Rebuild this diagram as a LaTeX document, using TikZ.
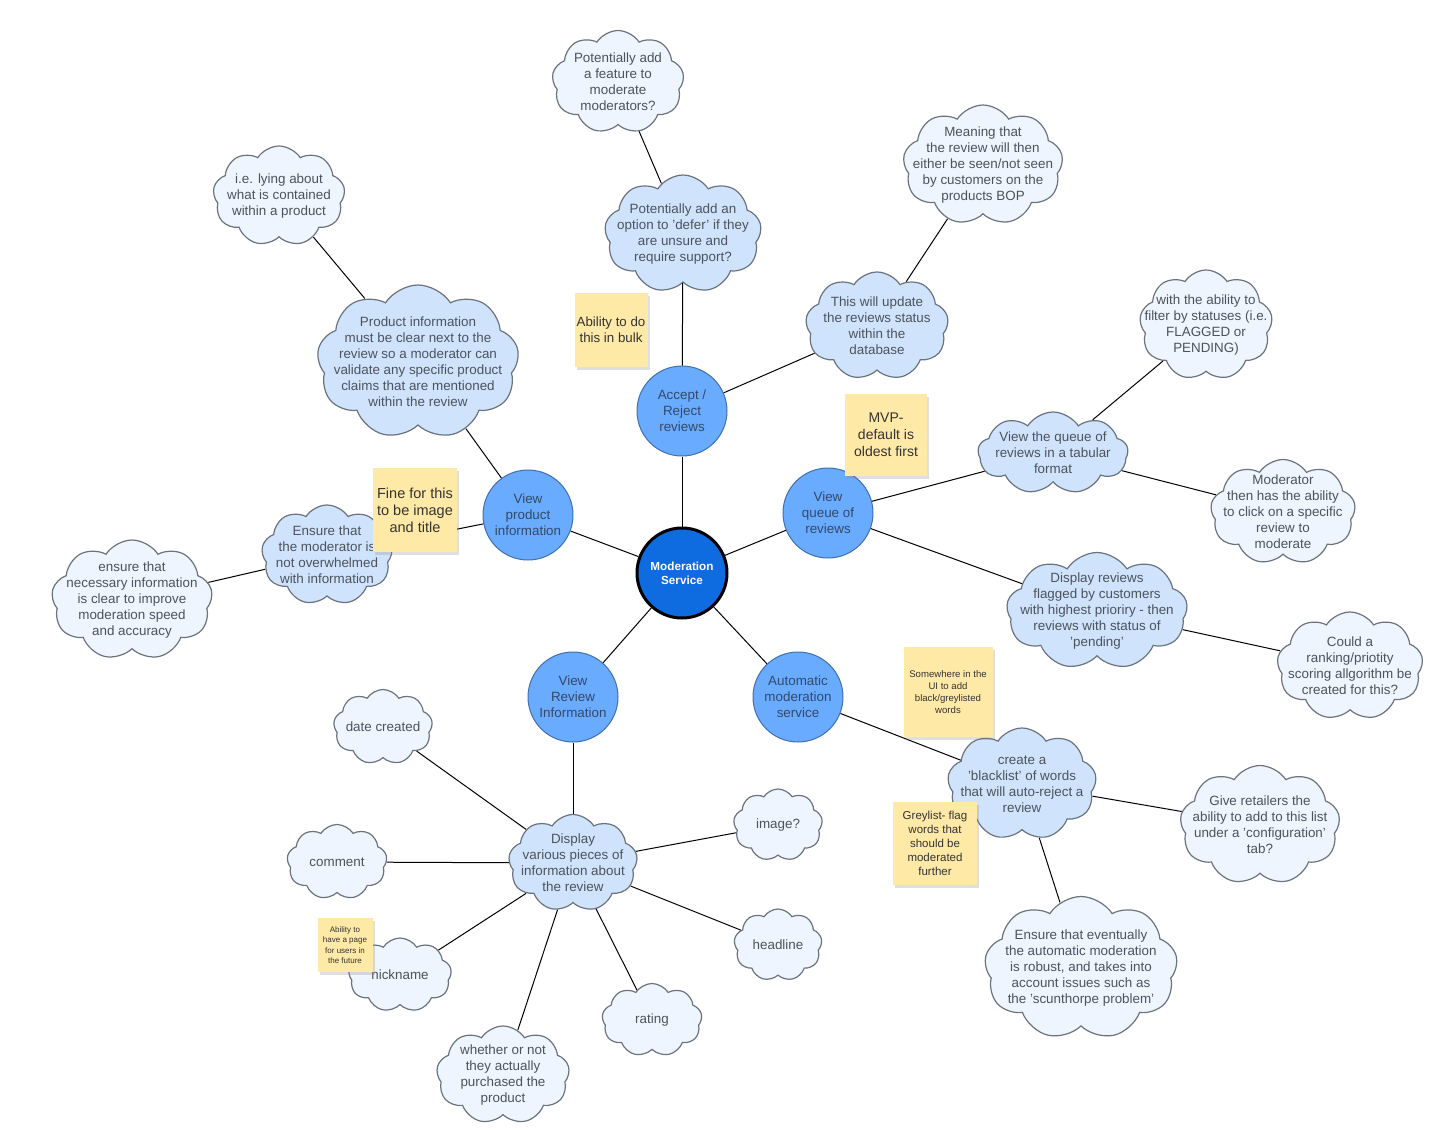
\documentclass[tikz,border=0pt]{standalone}
\usepackage{fontspec}
\setmainfont{Liberation Sans}
\usetikzlibrary{shapes.symbols,shadows}

\definecolor{lightcloud}{HTML}{EEF5FE}
\definecolor{darkcloud}{HTML}{CFE3FD}
\definecolor{cloudline}{HTML}{6B737E}
\definecolor{cloudtext}{HTML}{4D535C}
\definecolor{topicfill}{HTML}{69ABFE}
\definecolor{topicline}{HTML}{3F6FAF}
\definecolor{topictext}{HTML}{34496A}
\definecolor{hubfill}{HTML}{0E6BE0}
\definecolor{stickyfill}{HTML}{FFE9A6}

\begin{document}
\begin{tikzpicture}[x=1pt, y=-1pt,
  font=\fontsize{13.4}{16}\selectfont,
  link/.style={black, line width=1pt},
  ctext/.style={text=cloudtext, align=center, inner sep=0pt},
  basecloud/.style={cloud, cloud puffs=9, cloud puff arc=115, cloud ignores aspect,
    draw=cloudline, line width=1.2pt, inner sep=0pt, label={[ctext]center:{#1}}},
  lcloud/.style={basecloud={#1}, fill=lightcloud},
  dcloud/.style={basecloud={#1}, fill=darkcloud},
  topic/.style={circle, minimum size=90pt, inner sep=0pt, fill=topicfill,
    draw=topicline, line width=1pt, text=topictext, align=center},
  hub/.style={circle, minimum size=90pt, inner sep=0pt, fill=hubfill,
    draw=black, line width=3pt, text=white, align=center,
    font=\fontsize{11.7}{14}\selectfont\bfseries},
  sticky/.style={rectangle, fill=stickyfill, inner sep=0pt, align=center, text=black!80,
    drop shadow={shadow xshift=2pt, shadow yshift=-3pt, opacity=0.25}}
]
\useasboundingbox (0,0) rectangle (1438,1130);

% Hub and topics
\node[hub] (mod) at (682,573) {Moderation\\Service};
\node[topic] (accept) at (682,411) {Accept /\\Reject\\reviews};
\node[topic] (product) at (528,515) {View\\product\\information};
\node[topic] (queue) at (828,513) {View\\queue of\\reviews};
\node[topic] (info) at (573,697) {View\\Review\\Information};
\node[topic] (auto) at (798,697) {Automatic\\moderation\\service};

% Accept / Reject branch
\node[dcloud={Potentially add an\\option to 'defer' if they\\are unsure and\\require support?},
  minimum width=157, minimum height=118] (defer) at (683,234) {};
\node[lcloud={Potentially add\\a feature to\\moderate\\moderators?},
  minimum width=132, minimum height=103] (modmod) at (618,82) {};
\node[dcloud={This will update\\the reviews status\\within the\\database},
  minimum width=143, minimum height=108] (update) at (877,326) {};
\node[lcloud={Meaning that\\the review will then\\either be seen/not seen\\by customers on the\\products BOP},
  minimum width=160, minimum height=120] (meaning) at (983,165) {};

% Product information branch
\node[lcloud={i.e. lying about\\what is contained\\within a product},
  minimum width=132, minimum height=100] (lying) at (279,196) {};
\node[dcloud={Product information\\must be clear next to the\\review so a moderator can\\validate any specific product\\claims that are mentioned\\within the review},
  minimum width=202, minimum height=154] (prodinfo) at (418,362) {};
\node[dcloud={Ensure that\\the moderator is\\not overwhelmed\\with information},
  minimum width=131, minimum height=100] (overwhelm) at (327,555) {};
\node[lcloud={ensure that\\necessary information\\is clear to improve\\moderation speed\\and accuracy},
  minimum width=161, minimum height=120] (necessary) at (132,600) {};

% Queue branch
\node[dcloud={View the queue of\\reviews in a tabular\\format},
  minimum width=150, minimum height=82] (tabular) at (1053,453) {};
\node[lcloud={with the ability to\\filter by statuses (i.e.\\FLAGGED or\\PENDING)},
  minimum width=133, minimum height=110] (filter) at (1206,325) {};
\node[lcloud={Moderator\\then has the ability\\to click on a specific\\review to\\moderate},
  minimum width=145, minimum height=105] (clickon) at (1283,512) {};
\node[dcloud={Display reviews\\flagged by customers\\with highest prioriry - then\\reviews with status of\\'pending'},
  minimum width=181, minimum height=117] (flagged) at (1097,611) {};
\node[lcloud={Could a\\ranking/priotity\\scoring allgorithm be\\created for this?},
  minimum width=146, minimum height=108] (ranking) at (1350,666) {};

% Automatic moderation branch
\node[dcloud={create a\\'blacklist' of words\\that will auto-reject a\\review},
  minimum width=149, minimum height=112] (blacklist) at (1022,784) {};
\node[lcloud={Give retailers the\\ability to add to this list\\under a 'configuration'\\tab?},
  minimum width=160, minimum height=119] (retailers) at (1260,825) {};
\node[lcloud={Ensure that eventually\\the automatic moderation\\is robust, and takes into\\account issues such as\\the 'scunthorpe problem'},
  minimum width=193, minimum height=143] (scunthorpe) at (1081,968) {};

% Review information branch
\node[dcloud={Display\\various pieces of\\information about\\the review},
  minimum width=129, minimum height=97] (various) at (573,863) {};
\node[lcloud={date created}, minimum width=99, minimum height=75] (date) at (383,727) {};
\node[lcloud={comment}, minimum width=100, minimum height=75] (comment) at (337,862) {};
\node[lcloud={nickname}, minimum width=103, minimum height=74] (nickname) at (400,975) {};
\node[lcloud={whether or not\\they actually\\purchased the\\product},
  minimum width=133, minimum height=98] (purchased) at (503,1075) {};
\node[lcloud={rating}, minimum width=100, minimum height=73] (rating) at (652,1020) {};
\node[lcloud={headline}, minimum width=88, minimum height=72] (headline) at (778,945) {};
\node[lcloud={image?}, minimum width=89, minimum height=72] (image) at (778,825) {};

% Links
\draw[link] (mod) -- (accept);
\draw[link] (mod) -- (product);
\draw[link] (mod) -- (queue);
\draw[link] (mod) -- (info);
\draw[link] (mod) -- (auto);
\draw[link] (accept) -- (defer);
\draw[link] (defer) -- (modmod);
\draw[link] (accept) -- (update);
\draw[link] (update) -- (meaning);
\draw[link] (product) -- (prodinfo);
\draw[link] (prodinfo) -- (lying);
\draw[link] (product) -- (overwhelm);
\draw[link] (overwhelm) -- (necessary);
\draw[link] (queue) -- (tabular);
\draw[link] (tabular) -- (filter);
\draw[link] (tabular) -- (clickon);
\draw[link] (queue) -- (flagged);
\draw[link] (flagged) -- (ranking);
\draw[link] (auto) -- (blacklist);
\draw[link] (blacklist) -- (retailers);
\draw[link] (blacklist) -- (scunthorpe);
\draw[link] (info) -- (various);
\foreach \leaf in {date,comment,nickname,purchased,rating,headline,image}
  \draw[link] (various) -- (\leaf);

% Sticky notes
\node[sticky, minimum width=73, minimum height=74, font=\fontsize{13.3}{16}\selectfont] (bulk) at (611,330)
  {Ability to do\\this in bulk};
\node[sticky, minimum width=82, minimum height=82, font=\fontsize{14}{17}\selectfont] (mvp) at (886,435)
  {MVP-\\default is\\oldest first};
\node[sticky, minimum width=84, minimum height=84, font=\fontsize{14.5}{17}\selectfont] (fine) at (415,510)
  {Fine for this\\to be image\\and title};
\node[sticky, minimum width=89, minimum height=90, font=\fontsize{9.6}{12}\selectfont] (somewhere) at (948,692)
  {Somewhere in the\\UI to add\\black/greylisted\\words};
\node[sticky, minimum width=84, minimum height=83, font=\fontsize{11.5}{14}\selectfont] (greylist) at (935,843)
  {Greylist- flag\\words that\\should be\\moderated\\further};
\node[sticky, minimum width=55, minimum height=54, font=\fontsize{8}{10.4}\selectfont] (page) at (345,945)
  {Ability to\\have a page\\for users in\\the future};

\end{tikzpicture}
\end{document}
